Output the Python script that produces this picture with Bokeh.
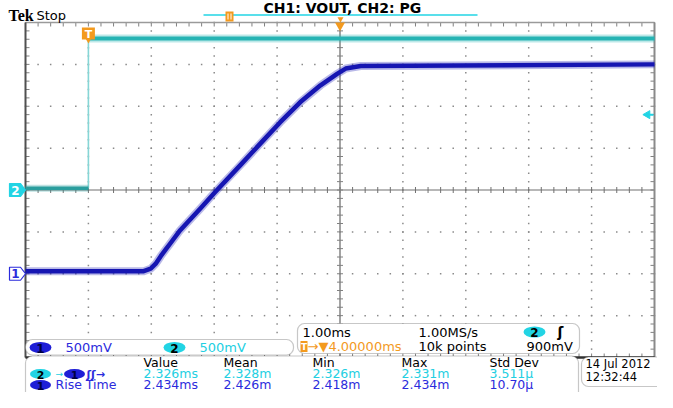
import numpy as np
from bokeh.plotting import figure
from bokeh.models import Range1d, Label, BoxAnnotation
from bokeh.embed import file_html
from bokeh.resources import INLINE

# ---------------- data ----------------
ch1_t_ms = [-1.0, 0.88, 0.99, 1.07, 1.15, 1.23, 1.31, 1.46, 1.78, 2.02, 2.42,
            2.74, 3.05, 3.37, 3.69, 3.96, 4.09, 4.33, 9.0]
ch1_v = [0.03, 0.03, 0.06, 0.12, 0.21, 0.29, 0.37, 0.52, 0.78, 0.98, 1.30,
         1.56, 1.81, 2.05, 2.25, 2.39, 2.45, 2.48, 2.50]
ch2_t_ms = [-1.0, 0.0, 0.0, 9.0]
ch2_v = [0.02, 0.02, 1.81, 1.81]

ch1_scale = 0.5      # V/div
ch2_scale = 0.5      # V/div
ch1_offset_div = -2.0
ch2_offset_div = 0.0
trigger_level_v = 0.9
trigger_t_ms = 0.0
expansion_t_ms = 4.0
time_per_div = 1.0
time_left = -1.0
time_right = 9.0

title_text = "CH1: VOUT, CH2: PG"
ch_scale_labels = ["500mV", "500mV"]
timebase_row1 = ["1.00ms", "1.00MS/s"]
timebase_row2 = ["\u2192\u25bc4.00000ms", "10k points", "900mV"]
meas_headers = ["Value", "Mean", "Min", "Max", "Std Dev"]
meas_ch2 = ["2.326ms", "2.328m", "2.326m", "2.331m", "3.511\u00b5"]
meas_ch1 = ["2.434ms", "2.426m", "2.418m", "2.434m", "10.70\u00b5"]
meas_name_ch1 = "Rise Time"
date_lines = ["14 Jul  2012", "12:32:44"]

# ---------------- geometry ----------------
W, H = 657, 392
PX_MS = 62.9
PX_DIV = 41.875
GL = 25.0      # graticule left edge, canvas px
GC = 189.5     # graticule centre line, canvas px from top

BLUE_TR = "#1616b2"
BLUE_TX = "#2b2bdc"
CYAN_TR = "#26b4b4"
CYAN_TX = "#22cfe2"
CYAN_BG = "#22d4e4"
ORANGE = "#f39a1e"
FONT = "DejaVu Sans"

x0 = time_left - GL / PX_MS
ytop = GC / PX_DIV
p = figure(width=W, height=H, output_backend="svg", toolbar_location=None,
           x_range=Range1d(x0, x0 + W / PX_MS),
           y_range=Range1d(ytop - H / PX_DIV, ytop),
           x_axis_location=None, y_axis_location=None, min_border=0,
           background_fill_color="white", border_fill_color="white",
           outline_line_color=None)
p.extra_x_ranges = {"px": Range1d(0, W)}
p.extra_y_ranges = {"py": Range1d(0, H)}
p.xgrid.visible = False
p.ygrid.visible = False


def Y(y):
    return H - y


def txt(x, b, s, color="black", size=13.0, style="normal", align="left",
        font=FONT, mid=None):
    """b = wanted baseline (px from top); placed via middle baseline."""
    ym = mid if mid is not None else b - 0.355 * size
    p.add_layout(Label(x=x, y=Y(ym), x_range_name="px", y_range_name="py", text=s,
                       text_color=color, text_font_size=f"{size}px", text_font=font,
                       text_font_style=style, text_align=align,
                       text_baseline="middle", level="overlay"))


def badge(x, y, s, fill, tcolor="black", w=22, h=11, size=12.0):
    p.ellipse(x=[x], y=[Y(y)], width=w, height=h, width_units="screen",
              height_units="screen", fill_color=fill, line_color=None,
              x_range_name="px", y_range_name="py", level="overlay")
    txt(x, 0, s, tcolor, size=size, style="bold", align="center", mid=y + 0.5)


def box(l, r, t, b):
    p.add_layout(BoxAnnotation(left=l, right=r, top=Y(t), bottom=Y(b),
                               x_range_name="px", y_range_name="py",
                               fill_color="white", fill_alpha=1.0,
                               line_color="#454545", line_width=1.2,
                               border_radius=7))


# ---------------- graticule ----------------
grid_t = np.arange(time_left, time_right + 1e-9, time_per_div)
grid_d = np.arange(-4, 4 + 1e-9, 1.0)
inner_t = [t for t in grid_t[1:-1] if abs(t - expansion_t_ms) > 1e-6]
inner_d = [d for d in grid_d[1:-1] if abs(d) > 1e-6]
fine_t = np.arange(time_left, time_right + 1e-9, time_per_div / 5)
fine_d = np.arange(-4, 4 + 1e-9, 0.2)
dots_x = list(np.repeat(inner_t, len(fine_d))) + list(np.tile(fine_t, len(inner_d)))
dots_y = list(np.tile(fine_d, len(inner_t))) + list(np.repeat(inner_d, len(fine_t)))
p.rect(dots_x, dots_y, width=1.5, height=1.5, width_units="screen",
       height_units="screen", fill_color="#8a8a8a", line_color=None)

# centre cross with minor ticks
p.line([time_left, time_right], [0, 0], line_color="#707070", line_width=1.2)
p.line([expansion_t_ms, expansion_t_ms], [-4, 4], line_color="#8c8c8c", line_width=1.6)
p.scatter(fine_t, [0] * len(fine_t), marker="dash", angle=np.pi / 2, size=6,
          line_color="#707070", line_width=1)
p.scatter([expansion_t_ms] * len(fine_d), fine_d, marker="dash", size=6,
          line_color="#808080", line_width=1)

# border ticks
tk_y = 2.0 / PX_DIV
tk_x = 2.0 / PX_MS
p.scatter(fine_t, [4 - tk_y] * len(fine_t), marker="dash", angle=np.pi / 2, size=4,
          line_color="#808080")
p.scatter(fine_t, [-4 + tk_y] * len(fine_t), marker="dash", angle=np.pi / 2, size=4,
          line_color="#808080")
p.scatter([time_left + tk_x] * len(fine_d), fine_d, marker="dash", size=4,
          line_color="#808080")
p.scatter([time_right - tk_x] * len(fine_d), fine_d, marker="dash", size=4,
          line_color="#808080")

# border
p.line([time_left, time_right], [4, 4], line_color="#9a9a9a", line_width=1.5)
p.line([time_right, time_right], [-4, 4], line_color="#8a8a8a", line_width=2)
p.line([time_left, time_left], [-4, 4], line_color="#505050", line_width=2)
p.line([time_left, time_right], [-4, -4], line_color="#303030", line_width=2.5)

# ---------------- traces ----------------
ch2_y = np.array(ch2_v) / ch2_scale + ch2_offset_div
ch1_y = np.array(ch1_v) / ch1_scale + ch1_offset_div
p.segment(x0=[ch2_t_ms[1]], y0=[ch2_y[1]], x1=[ch2_t_ms[2]], y1=[ch2_y[2]],
          line_color="#86d6d6", line_width=1.6)
# faint noise envelope + core
p.line(ch2_t_ms[:2], ch2_y[:2], line_color="#2a9e9e", line_width=7, line_alpha=0.3)
p.line(ch2_t_ms[2:], ch2_y[2:], line_color=CYAN_TR, line_width=8, line_alpha=0.3)
p.line(ch2_t_ms[:2], ch2_y[:2], line_color="#2a9e9e", line_width=3.5)
p.line(ch2_t_ms[2:], ch2_y[2:], line_color=CYAN_TR, line_width=4)
p.line(ch1_t_ms, ch1_y, line_color=BLUE_TR, line_width=8, line_alpha=0.3,
       line_join="round")
p.line(ch1_t_ms, ch1_y, line_color=BLUE_TR, line_width=4.5, line_join="round")

# ---------------- markers ----------------
for off, lab, fill, tcol, lcol in [(ch2_offset_div, "2", CYAN_BG, "white", CYAN_BG),
                                   (ch1_offset_div, "1", "white", BLUE_TX, BLUE_TX)]:
    h = 6.5 / PX_DIV
    p.patch([9, 20, 25, 20, 9], [off + h, off + h, off, off - h, off - h],
            x_range_name="px", fill_color=fill, line_color=lcol, line_width=1.2)
    p.add_layout(Label(x=15, y=off, x_range_name="px", text=lab, text_color=tcol,
                       text_font_size="12px", text_font=FONT, text_font_style="bold",
                       text_align="center", text_baseline="middle", level="overlay"))

# trigger level arrow (right)
lvl = trigger_level_v / ch2_scale + ch2_offset_div
p.scatter([time_right - 7 / PX_MS], [lvl], marker="triangle", angle=np.pi / 2, size=8,
          fill_color=CYAN_BG, line_color=CYAN_BG)
p.segment(x0=[time_right - 7 / PX_MS], y0=[lvl], x1=[time_right - 1 / PX_MS], y1=[lvl],
          line_color=CYAN_BG, line_width=2)

# trigger position "T" marker
p.rect(x=[trigger_t_ms], y=[Y(33)], width=13, height=12, width_units="screen",
       height_units="screen", y_range_name="py", fill_color=ORANGE, line_color=None)
p.scatter(x=[trigger_t_ms], y=[Y(39.5)], marker="inverted_triangle", size=6,
          y_range_name="py", fill_color=ORANGE, line_color=None)
p.add_layout(Label(x=trigger_t_ms, y=Y(33.5), y_range_name="py", text="T",
                   text_color="white", text_font_size="11px", text_font=FONT,
                   text_font_style="bold", text_align="center",
                   text_baseline="middle", level="overlay"))

# expansion point triangle on top edge
p.scatter(x=[expansion_t_ms], y=[Y(25)], marker="inverted_triangle", size=10,
          y_range_name="py", fill_color=ORANGE, line_color=None)

# record view bar at top
p.line([203, 477], [Y(14.5), Y(14.5)], x_range_name="px", y_range_name="py",
       line_color=CYAN_BG, line_width=1.5)
p.rect(x=[229], y=[Y(16)], width=8, height=10, width_units="screen",
       height_units="screen", x_range_name="px", y_range_name="py",
       fill_color=ORANGE, line_color=None)
p.segment(x0=[227.5, 230.5], y0=[Y(13), Y(13)], x1=[227.5, 230.5], y1=[Y(19), Y(19)],
          x_range_name="px", y_range_name="py", line_color="white", line_width=1)
p.scatter(x=[340], y=[Y(18.5)], marker="inverted_triangle", size=6,
          x_range_name="px", y_range_name="py", fill_color=ORANGE, line_color=None)

# ---------------- top texts ----------------
txt(263, 12, title_text, "black", size=14.0, style="bold")
txt(8, 21, "Tek", "black", size=16.0, style="bold", font="Liberation Serif")
txt(36, 20, "Stop", "black", size=13.0)

# ---------------- bottom panels ----------------
box(25, 293, 339, 354.5)
box(297, 579, 323, 353)
box(25, 578, 355.5, 400)
box(581, 680, 356.5, 386)

# channel scale panel
badge(40, 347, "1", "#1e1ed6", "#000040")
txt(65, 351.5, ch_scale_labels[0], BLUE_TX)
badge(174, 347, "2", CYAN_BG, "black")
txt(199, 351.5, ch_scale_labels[1], CYAN_TX)

# timebase panel
txt(302, 336.5, timebase_row1[0])
txt(418, 336.5, timebase_row1[1])
badge(534, 331.5, "2", CYAN_BG, "black")
txt(557, 336.5, "\u0283", "black", size=14.0, style="bold")
p.rect(x=[303.5], y=[Y(346)], width=7, height=11, width_units="screen",
       height_units="screen", x_range_name="px", y_range_name="py",
       fill_color=ORANGE, line_color=None, level="overlay")
txt(303.5, 0, "T", "white", size=9.0, style="bold", align="center", mid=346.5)
txt(307, 350.5, timebase_row2[0], ORANGE)
txt(418, 350.5, timebase_row2[1])
txt(526, 350.5, timebase_row2[2])

# measurement panel
col_x = [143, 223, 312, 401, 489]
for cx, hdr, a, b in zip(col_x, meas_headers, meas_ch2, meas_ch1):
    txt(cx, 366.5, hdr, size=12.5)
    txt(cx, 377.5, a, CYAN_TX, size=12.5)
    txt(cx, 388.5, b, BLUE_TX, size=12.5)

badge(40, 373.5, "2", CYAN_BG, "black", w=21, h=10, size=11.0)
txt(55, 376.5, "\u2192", CYAN_TX, size=9.0)
badge(74, 373.5, "1", "#1e1ed6", "#000040", w=21, h=10, size=11.0)
txt(86, 377.5, "\u0283\u0283\u2192", BLUE_TX, size=11.0, style="bold")
badge(40, 384.5, "1", "#1e1ed6", "#000040", w=21, h=10, size=11.0)
txt(55, 388.5, meas_name_ch1, BLUE_TX, size=12.5)

# date panel
txt(585, 368, date_lines[0], size=11.5)
txt(585, 381, date_lines[1], size=11.5)

open("out.html", "w").write(file_html(p, INLINE))
